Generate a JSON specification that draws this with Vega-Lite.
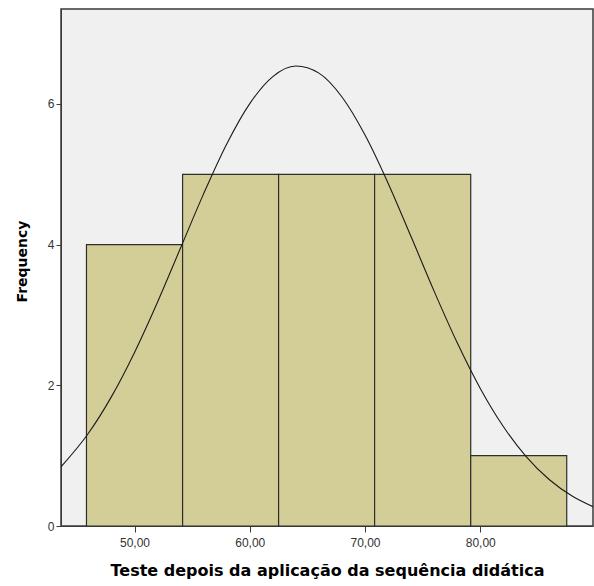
{
  "$schema": "https://vega.github.io/schema/vega-lite/v6.json",
  "autosize": "none",
  "padding": {"left": 61, "top": 9, "right": 1, "bottom": 60},
  "width": 532,
  "height": 517,
  "background": "white",
  "config": {
    "view": {"fill": "#f0f0f0", "stroke": "#3a3a3a", "strokeWidth": 1.5},
    "axis": {"labelFont": "Liberation Sans", "titleFont": "DejaVu Sans", "labelColor": "#333333", "titleColor": "#000000", "domainColor": "#3a3a3a", "tickColor": "#3a3a3a", "grid": false}
  },
  "datasets": {
    "bins": [
      {"bin_start": 45.83, "bin_end": 54.17, "count": 4},
      {"bin_start": 54.17, "bin_end": 62.5, "count": 5},
      {"bin_start": 62.5, "bin_end": 70.83, "count": 5},
      {"bin_start": 70.83, "bin_end": 79.17, "count": 5},
      {"bin_start": 79.17, "bin_end": 87.5, "count": 1}
    ],
    "curve": [
      {"x": 43.62, "y": 0.841},
      {"x": 46, "y": 1.318},
      {"x": 48, "y": 1.839},
      {"x": 50, "y": 2.468},
      {"x": 52, "y": 3.185},
      {"x": 54, "y": 3.955},
      {"x": 56, "y": 4.725},
      {"x": 58, "y": 5.431},
      {"x": 60, "y": 6.005},
      {"x": 62, "y": 6.389},
      {"x": 64, "y": 6.539},
      {"x": 66, "y": 6.438},
      {"x": 68, "y": 6.099},
      {"x": 70, "y": 5.558},
      {"x": 72, "y": 4.874},
      {"x": 74, "y": 4.111},
      {"x": 76, "y": 3.336},
      {"x": 78, "y": 2.605},
      {"x": 80, "y": 1.956},
      {"x": 82, "y": 1.414},
      {"x": 84, "y": 0.983},
      {"x": 86, "y": 0.657},
      {"x": 88, "y": 0.423},
      {"x": 89.78, "y": 0.275}
    ]
  },
  "layer": [
    {
      "data": {"name": "bins"},
      "mark": {"type": "rect", "fill": "#d3ce98", "stroke": "#2e2e2e", "strokeWidth": 1.2},
      "encoding": {
        "x": {
          "field": "bin_start", "type": "quantitative",
          "scale": {"domain": [43.62, 89.78], "nice": false, "zero": false},
          "axis": {
            "title": "Teste depois da aplicação da sequência didática",
            "values": [50, 60, 70, 80],
            "labelExpr": "replace(format(datum.value, '.2f'), '.', ',')",
            "labelFontSize": 12, "labelPadding": 5, "tickSize": 6,
            "titleFontSize": 16, "titleFontWeight": "bold", "titlePadding": 14
          }
        },
        "x2": {"field": "bin_end"},
        "y": {
          "field": "count", "type": "quantitative",
          "scale": {"domain": [0, 7.35], "nice": false},
          "axis": {
            "title": "Frequency",
            "values": [0, 2, 4, 6],
            "format": "d",
            "labelFontSize": 12, "labelPadding": 2, "tickSize": 5,
            "titleFontSize": 14, "titleFontWeight": "bold", "titlePadding": 18,
            "titleY": 252
          }
        },
        "y2": {"datum": 0}
      }
    },
    {
      "data": {"name": "curve"},
      "mark": {"type": "line", "interpolate": "monotone", "color": "#1a1a1a", "strokeWidth": 1.1, "clip": true},
      "encoding": {
        "x": {"field": "x", "type": "quantitative"},
        "y": {"field": "y", "type": "quantitative"}
      }
    }
  ]
}
